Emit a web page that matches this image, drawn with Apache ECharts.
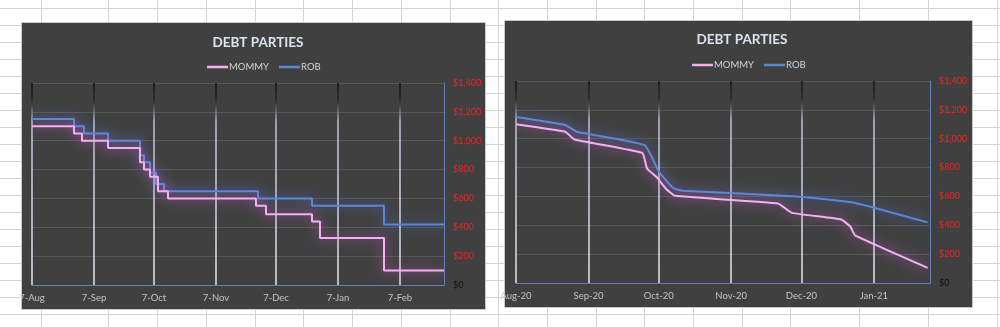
<!DOCTYPE html>
<html><head><meta charset="utf-8">
<script src="https://cdn.jsdelivr.net/npm/echarts@6/dist/echarts.min.js"></script>
<style>
html,body{margin:0;padding:0;background:#fff;}
#wrap{position:relative;width:1000px;height:327px;overflow:hidden;background:#fff;}
.sl{position:absolute;background:#d4d4d4;}
.panel{position:absolute;background:#404040;box-shadow:0 0 0 1px #c9c9c9;}
#chart{position:absolute;left:0;top:0;width:1000px;height:327px;}
</style></head>
<body><div id="wrap"><div id="bg"></div><div id="chart"></div></div>
<script>
// ---------- data ----------
const yTickValues = [0, 200, 400, 600, 800, 1000, 1200, 1400];
const yTickLabels = ['$0', '$200', '$400', '$600', '$800', '$1,000', '$1,200', '$1,400'];

const leftTickDates = ['2020-08-07', '2020-09-07', '2020-10-07', '2020-11-07', '2020-12-07', '2021-01-07', '2021-02-07'];
const leftTickLabels = ['7-Aug', '7-Sep', '7-Oct', '7-Nov', '7-Dec', '7-Jan', '7-Feb'];
const leftRange = ['2020-08-07', '2021-03-01'];

const rightTickDates = ['2020-08-01', '2020-09-01', '2020-10-01', '2020-11-01', '2020-12-01', '2021-01-01'];
const rightTickLabels = ['Aug-20', 'Sep-20', 'Oct-20', 'Nov-20', 'Dec-20', 'Jan-21'];
const rightRange = ['2020-08-01', '2021-01-25'];

const leftMommyDates = ['2020-08-07', '2020-08-28', '2020-09-01', '2020-09-14', '2020-09-30', '2020-10-02', '2020-10-05', '2020-10-09', '2020-10-14', '2020-11-27', '2020-12-02', '2020-12-25', '2020-12-29', '2021-01-30', '2021-03-01'];
const leftMommyValues = [1100, 1050, 1000, 950, 850, 800, 750, 650, 600, 550, 490, 440, 325, 100, 100];

const leftRobDates = ['2020-08-07', '2020-08-28', '2020-09-02', '2020-09-14', '2020-09-30', '2020-10-02', '2020-10-05', '2020-10-08', '2020-10-12', '2020-11-28', '2020-12-25', '2021-01-30', '2021-03-01'];
const leftRobValues = [1150, 1100, 1050, 1000, 900, 850, 780, 700, 650, 600, 550, 420, 420];

const rightMommyDates = ['2020-08-01', '2020-08-22', '2020-08-26', '2020-09-24', '2020-09-26', '2020-09-30', '2020-10-04', '2020-10-08', '2020-11-21', '2020-11-27', '2020-12-18', '2020-12-22', '2020-12-24', '2021-01-24'];
const rightMommyValues = [1100, 1048, 995, 902, 794, 736, 655, 604, 551, 486, 440, 390, 330, 105];

const rightRobDates = ['2020-08-01', '2020-08-22', '2020-08-27', '2020-09-25', '2020-10-01', '2020-10-07', '2020-10-11', '2020-11-29', '2020-12-24', '2021-01-24'];
const rightRobValues = [1150, 1095, 1048, 955, 775, 660, 640, 600, 555, 420];

// ---------- spreadsheet background (decoration) ----------
const bg = document.getElementById('bg');
const colXs = [40.5, 108, 157, 206, 255, 303, 352, 400.5, 450, 498, 546.5, 595.5, 644, 693, 741.5, 790, 859, 928, 997];
colXs.forEach(x => { const d = document.createElement('div'); d.className = 'sl'; d.style.cssText = `left:${Math.round(x)}px;top:0;width:1px;height:327px;`; bg.appendChild(d); });
for (let y = 8; y < 327; y += 17) { const d = document.createElement('div'); d.className = 'sl'; d.style.cssText = `left:0;top:${y}px;width:1000px;height:1px;`; bg.appendChild(d); }
[[22, 23, 463, 286], [505, 21, 467, 286]].forEach(p => { const d = document.createElement('div'); d.className = 'panel'; d.style.cssText = `left:${p[0]}px;top:${p[1]}px;width:${p[2]}px;height:${p[3]}px;`; bg.appendChild(d); });

// ---------- chart ----------
const FONT = 'Lato, "Open Sans", sans-serif';
const tp = s => { const p = s.split('-').map(Number); return Date.UTC(p[0], p[1] - 1, p[2]); };
const pair = (ds, vs) => ds.map((d, i) => [tp(d), vs[i]]);
const MOMMY_C = '#f5b0f0', ROB_C = '#5b88d6';

function xAxisFor(gridIndex, range, tickDates, tickLabels) {
  const ts = tickDates.map(tp);
  return {
    type: 'value', gridIndex, min: tp(range[0]), max: tp(range[1]),
    axisLine: { show: true, onZero: false, lineStyle: { color: '#6680bd', width: 1 } },
    axisTick: { show: false, customValues: ts },
    axisLabel: {
      customValues: ts, color: '#c4c4c4', fontSize: 9.5, fontFamily: FONT, margin: 8,
      formatter: v => { const i = ts.indexOf(v); return i >= 0 ? tickLabels[i] : ''; }
    },
    splitLine: {
      show: true,
      lineStyle: {
        width: 1.5,
        color: new echarts.graphic.LinearGradient(0, 0, 0, 1, [
          { offset: 0, color: '#0d0d0d' }, { offset: 0.1, color: '#2a2a2a' },
          { offset: 0.2, color: '#b8c2d2' }, { offset: 1, color: '#e2e8f2' }])
      }
    }
  };
}
function yAxisFor(gridIndex) {
  return {
    type: 'value', gridIndex, position: 'right', min: 0, max: 1400, interval: 200,
    axisLine: { show: true, lineStyle: { color: '#6680bd', width: 1 } },
    axisTick: { show: false },
    axisLabel: {
      margin: 9, fontSize: 9, fontFamily: FONT,
      color: v => Number(v) === 0 ? '#111111' : '#ff1e1e',
      formatter: v => yTickLabels[yTickValues.indexOf(v)]
    },
    splitLine: { show: true, lineStyle: { color: '#585858', width: 1 } }
  };
}
function lineSeries(name, idx, data, color, glow, extra) {
  return Object.assign({
    name, type: 'line', xAxisIndex: idx, yAxisIndex: idx, data,
    showSymbol: false, symbol: 'none', z: name === 'MOMMY' ? 4 : 3,
    lineStyle: { color, width: 2, shadowBlur: 12, shadowColor: glow },
    itemStyle: { color }
  }, extra);
}

const chart = echarts.init(document.getElementById('chart'), null, { renderer: 'canvas' });
chart.setOption({
  backgroundColor: 'transparent',
  animation: false,
  title: [
    { text: 'DEBT PARTIES', left: 253, top: 31, textAlign: 'center', textStyle: { color: '#dbe2ee', fontSize: 13.5, fontWeight: 'bold', fontFamily: FONT } },
    { text: 'DEBT PARTIES', left: 737, top: 28, textAlign: 'center', textStyle: { color: '#dbe2ee', fontSize: 13.5, fontWeight: 'bold', fontFamily: FONT } }
  ],
  legend: [
    { data: ['MOMMY', 'ROB'], left: 202, top: 57, icon: 'rect', itemWidth: 21, itemHeight: 2.5, itemGap: 10, textStyle: { color: '#d4d4d4', fontSize: 9.5, fontFamily: FONT, padding: [0, 0, 0, -4] } },
    { data: ['MOMMY', 'ROB'], left: 687, top: 55, icon: 'rect', itemWidth: 21, itemHeight: 2.5, itemGap: 10, textStyle: { color: '#d4d4d4', fontSize: 9.5, fontFamily: FONT, padding: [0, 0, 0, -4] } }
  ],
  grid: [
    { left: 32, right: 556, top: 83, bottom: 42 },
    { left: 516, right: 70, top: 81, bottom: 44 }
  ],
  xAxis: [
    xAxisFor(0, leftRange, leftTickDates, leftTickLabels),
    xAxisFor(1, rightRange, rightTickDates, rightTickLabels)
  ],
  yAxis: [yAxisFor(0), yAxisFor(1)],
  series: [
    lineSeries('MOMMY', 0, pair(leftMommyDates, leftMommyValues), MOMMY_C, 'rgba(230,90,230,0.9)', { step: 'end' }),
    lineSeries('ROB', 0, pair(leftRobDates, leftRobValues), ROB_C, 'rgba(80,120,235,0.9)', { step: 'end' }),
    lineSeries('MOMMY', 1, pair(rightMommyDates, rightMommyValues), MOMMY_C, 'rgba(230,90,230,0.9)', { smooth: 0.12 }),
    lineSeries('ROB', 1, pair(rightRobDates, rightRobValues), ROB_C, 'rgba(80,120,235,0.9)', { smooth: 0.12 })
  ]
});
</script>
</body></html>
